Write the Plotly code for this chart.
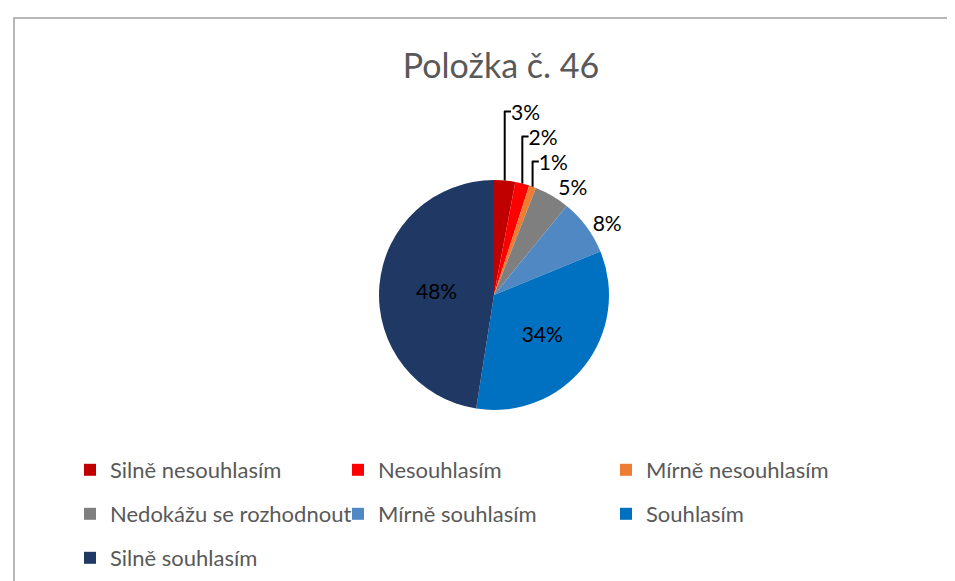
import plotly.graph_objects as go

labels = ["Silně nesouhlasím", "Nesouhlasím", "Mírně nesouhlasím",
          "Nedokážu se rozhodnout", "Mírně souhlasím", "Souhlasím", "Silně souhlasím"]
values = [3, 2, 1, 5, 8, 34, 48]
colors = ["#C00000", "#FF0000", "#ED7D31", "#7F7F7F", "#4F88C2", "#0070C0", "#1F3864"]
positions = ["outside", "outside", "outside", "outside", "outside", "inside", "inside"]
legend_rows = [1, 1, 1, 2, 2, 2, 3]

W, H = 955, 581
cx, cy, r = 486, 287, 115
FONT = "Lato, Open Sans, sans-serif"

fig = go.Figure()
fig.add_trace(go.Pie(
    labels=labels,
    values=values,
    text=[f"{v}%" for v in values],
    textinfo="text",
    textposition=positions,
    sort=False,
    direction="clockwise",
    rotation=0,
    marker=dict(colors=colors, line=dict(width=0)),
    textfont=dict(family=FONT, size=21, color="#000000"),
    insidetextfont=dict(color="#000000"),
    outsidetextfont=dict(color="#000000"),
    insidetextorientation="horizontal",
    domain=dict(x=[(cx - r) / W, (cx + r) / W], y=[(H - cy - r) / H, (H - cy + r) / H]),
    hoverinfo="label+percent",
    showlegend=False,
))

# legend entries (one legend per row)
for lab, col, row in zip(labels, colors, legend_rows):
    fig.add_trace(go.Scatter(
        x=[None], y=[None], mode="markers", name=lab,
        marker=dict(symbol="square", size=12, color=col, line=dict(width=0)),
        legend="legend" if row == 1 else f"legend{row}",
        hoverinfo="skip",
    ))

row_y = {1: 462, 2: 506, 3: 550}
leg_common = dict(orientation="h", x=62 / W, xanchor="left", yanchor="middle",
                  entrywidth=223, entrywidthmode="pixels",
                  font=dict(size=22, color="#595959", family=FONT),
                  itemwidth=30, bgcolor="rgba(0,0,0,0)")

fig.update_layout(
    width=W, height=H,
    margin=dict(l=0, r=0, t=0, b=0),
    paper_bgcolor="white",
    plot_bgcolor="white",
    font=dict(family=FONT, color="#595959"),
    xaxis=dict(visible=False),
    yaxis=dict(visible=False),
    title=dict(text="Položka č. 46", x=493 / W, xanchor="center",
               y=1 - 58 / H, yanchor="middle",
               font=dict(size=34, color="#595959", family=FONT)),
    legend=dict(y=1 - row_y[1] / H, **leg_common),
    legend2=dict(y=1 - row_y[2] / H, **leg_common),
    legend3=dict(y=1 - row_y[3] / H, **leg_common),
    shapes=[dict(type="rect", xref="paper", yref="paper",
                 x0=6 / W, x1=1.02, y0=-0.02, y1=1 - 10 / H,
                 line=dict(color="#A0A0A0", width=1.5), fillcolor="rgba(0,0,0,0)", layer="below")],
)

fig.write_html("out.html")
